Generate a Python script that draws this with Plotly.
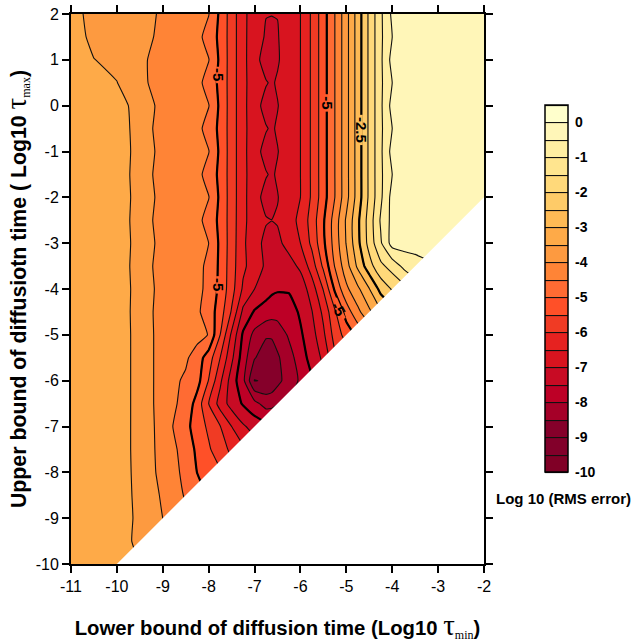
import plotly.graph_objects as go

x_vals = [-11,-10.5,-10,-9.5,-9,-8.5,-8.25,-8,-7.75,-7.5,-7.25,-7,-6.75,-6.625,-6.5,-6.25,-6,-5.75,-5.5,-5.25,-5,-4.75,-4.5,-4.25,-4,-3.75,-3.5,-3.25,-3,-2.5,-2]
y_vals = [2,1.5,1,0.5,0,-0.5,-1,-1.5,-2,-2.5,-3,-3.5,-4,-4.5,-5,-5.5,-6,-6.5,-7,-7.5,-8,-8.5,-9,-9.5,-10]

z_vals = [
[-3.3,-3.68,-3.78,-3.87,-4.05,-4.28,-4.38,-4.48,-5.1,-5.75,-6.35,-6.8,-6.99,-6.99,-6.99,-6.72,-6.5,-5.92,-5.21,-4.5,-3.67,-2.77,-1.9,-1.09,-0.4,-0.3,-0.27,-0.25,-0.24,-0.22,-0.2],
[-3.25,-3.63,-3.73,-3.85,-4.1,-4.28,-4.35,-4.7,-5.12,-5.75,-6.35,-6.82,-7.04,-7.1,-7.03,-6.75,-6.5,-5.92,-5.21,-4.5,-3.67,-2.77,-1.9,-1.09,-0.5,-0.3,-0.27,-0.26,-0.25,-0.23,-0.21],
[-3.2,-3.49,-3.62,-3.9,-4.2,-4.28,-4.38,-4.48,-5.1,-5.75,-6.35,-6.84,-7.2,-7.2,-7.05,-6.75,-6.5,-5.92,-5.21,-4.5,-3.67,-2.77,-1.9,-1.09,-0.33,-0.28,-0.26,-0.25,-0.24,-0.22,-0.2],
[-3.15,-3.3,-3.49,-3.85,-4.27,-4.28,-4.35,-4.7,-5.12,-5.75,-6.35,-6.8,-6.97,-7.05,-6.95,-6.72,-6.5,-5.92,-5.21,-4.5,-3.67,-2.77,-1.9,-1.09,-0.5,-0.3,-0.27,-0.26,-0.25,-0.23,-0.21],
[-3.15,-3.25,-3.38,-3.62,-4.2,-4.3,-4.38,-4.48,-5.1,-5.75,-6.35,-6.83,-7.15,-7.18,-7.02,-6.75,-6.5,-5.92,-5.21,-4.5,-3.67,-2.77,-1.9,-1.09,-0.33,-0.28,-0.26,-0.25,-0.24,-0.22,-0.2],
[-3.15,-3.25,-3.32,-3.64,-4.28,-4.28,-4.35,-4.7,-5.12,-5.75,-6.35,-6.8,-6.97,-7.05,-6.95,-6.72,-6.5,-5.92,-5.21,-4.5,-3.67,-2.77,-1.9,-1.09,-0.5,-0.3,-0.27,-0.26,-0.25,-0.23,-0.21],
[-3.15,-3.25,-3.32,-3.62,-4.2,-4.3,-4.38,-4.48,-5.1,-5.75,-6.35,-6.83,-7.15,-7.18,-7.02,-6.75,-6.5,-5.92,-5.21,-4.5,-3.67,-2.77,-1.9,-1.09,-0.33,-0.28,-0.26,-0.25,-0.24,-0.22,-0.2],
[-3.15,-3.25,-3.32,-3.64,-4.28,-4.28,-4.35,-4.7,-5.12,-5.75,-6.35,-6.8,-6.97,-7.05,-6.95,-6.72,-6.5,-5.92,-5.21,-4.5,-3.67,-2.77,-1.9,-1.09,-0.5,-0.3,-0.27,-0.26,-0.25,-0.23,-0.21],
[-3.15,-3.25,-3.32,-3.62,-4.2,-4.3,-4.38,-4.48,-5.1,-5.75,-6.35,-6.83,-7.15,-7.18,-7.02,-6.75,-6.5,-5.92,-5.21,-4.5,-3.67,-2.77,-1.9,-1.09,-0.33,-0.28,-0.26,-0.25,-0.24,-0.22,-0.2],
[-3.15,-3.25,-3.32,-3.64,-4.28,-4.28,-4.35,-4.7,-5.12,-5.75,-6.37,-6.78,-6.97,-6.995,-6.96,-6.68,-6.39,-5.78,-5.06,-4.28,-3.43,-2.6,-1.78,-0.94,-0.35,-0.3,-0.27,-0.26,-0.25,-0.23,-0.21],
[-3.15,-3.25,-3.32,-3.62,-4.2,-4.3,-4.38,-4.5,-5.1,-5.75,-6.4,-6.85,-7.1,-7.15,-7.12,-6.82,-6.5,-5.88,-5.1,-4.3,-3.47,-2.63,-1.82,-1.06,-0.3,-0.28,-0.26,-0.26,-0.25,-0.22,-0.2],
[-3.15,-3.25,-3.32,-3.64,-4.28,-4.28,-4.35,-4.62,-5.1,-5.78,-6.4,-6.75,-7.08,-7.2,-7.25,-7.2,-6.9,-6.26,-5.4,-4.47,-3.7,-2.9,-2.2,-1.62,-1.3,-0.89,-0.75,-0.59,-0.4,-0.3,-0.25],
[-3.15,-3.25,-3.32,-3.62,-4.22,-4.3,-4.38,-4.62,-5.13,-5.8,-6.58,-7.0,-7.3,-7.4,-7.45,-7.45,-7.3,-6.75,-5.97,-4.92,-4.11,-3.6,-3.02,-2.34,-1.95,-1.67,-1.2,-0.9,-0.6,-0.4,-0.3],
[-3.15,-3.25,-3.32,-3.63,-4.27,-4.3,-4.42,-4.72,-5.25,-6.05,-7.12,-7.55,-7.7,-7.78,-7.8,-7.72,-7.43,-7.02,-6.38,-5.57,-4.77,-4.13,-3.6,-3.06,-2.7,-2.3,-1.9,-1.5,-1.1,-0.8,-0.5],
[-3.15,-3.25,-3.32,-3.62,-4.25,-4.27,-4.33,-4.52,-5.5,-6.6,-7.58,-8.15,-8.45,-8.45,-8.3,-7.93,-7.57,-7.2,-6.6,-5.8,-5.3,-4.87,-4.4,-3.9,-3.4,-3.0,-2.6,-2.2,-1.8,-1.3,-0.9],
[-3.15,-3.25,-3.32,-3.62,-4.25,-4.42,-4.74,-5.25,-6.0,-6.89,-7.75,-8.47,-8.75,-8.72,-8.57,-8.2,-7.75,-7.3,-6.9,-6.1,-5.8,-5.3,-4.8,-4.3,-3.8,-3.4,-3.0,-2.6,-2.2,-1.7,-1.2],
[-3.15,-3.25,-3.32,-3.62,-4.25,-4.58,-4.82,-5.52,-6.4,-7.23,-7.87,-9.02,-8.95,-8.85,-8.65,-8.25,-7.93,-7.55,-7.1,-6.6,-6.1,-5.6,-5.2,-4.7,-4.2,-3.8,-3.4,-3.0,-2.6,-2.1,-1.6],
[-3.15,-3.25,-3.32,-3.62,-4.25,-4.65,-5.2,-6.0,-6.7,-7.2,-7.55,-7.85,-8.2,-8.18,-8.05,-7.95,-7.7,-7.4,-7.1,-6.7,-6.3,-5.9,-5.5,-5.1,-4.6,-4.2,-3.8,-3.4,-3.0,-2.5,-2.0],
[-3.15,-3.25,-3.32,-3.62,-4.22,-4.86,-5.22,-5.6,-5.98,-6.5,-6.93,-7.2,-7.34,-7.3,-7.2,-7.0,-6.8,-6.5,-6.2,-5.9,-5.6,-5.3,-5.0,-4.6,-4.2,-3.8,-3.4,-3.0,-2.6,-2.2,-1.8],
[-3.15,-3.25,-3.32,-3.62,-4.2,-4.68,-5.11,-5.43,-5.8,-6.1,-6.4,-6.7,-6.8,-6.8,-6.7,-6.5,-6.3,-6.1,-5.8,-5.5,-5.2,-4.9,-4.6,-4.2,-3.8,-3.5,-3.2,-2.9,-2.5,-2.1,-1.7],
[-3.15,-3.25,-3.32,-3.61,-4.17,-4.62,-5.01,-5.22,-5.44,-5.85,-6.1,-6.3,-6.4,-6.4,-6.3,-6.1,-5.9,-5.7,-5.4,-5.2,-4.9,-4.6,-4.3,-4.0,-3.6,-3.3,-3.0,-2.7,-2.4,-2.0,-1.6],
[-3.15,-3.25,-3.31,-3.6,-4.07,-4.55,-4.75,-5.05,-5.3,-5.6,-5.9,-6.1,-6.2,-6.2,-6.1,-5.9,-5.7,-5.5,-5.2,-5.0,-4.7,-4.4,-4.1,-3.8,-3.5,-3.2,-2.9,-2.6,-2.3,-1.9,-1.5],
[-3.13,-3.22,-3.29,-3.59,-4.0,-4.4,-4.6,-4.8,-5.0,-5.3,-5.5,-5.7,-5.8,-5.8,-5.7,-5.6,-5.4,-5.2,-5.0,-4.8,-4.5,-4.2,-3.9,-3.6,-3.3,-3.0,-2.7,-2.4,-2.1,-1.8,-1.4],
[-3.12,-3.2,-3.28,-3.62,-3.9,-4.2,-4.4,-4.6,-4.8,-5.0,-5.2,-5.4,-5.5,-5.5,-5.4,-5.3,-5.1,-4.9,-4.7,-4.5,-4.3,-4.0,-3.7,-3.4,-3.1,-2.8,-2.5,-2.3,-2.0,-1.7,-1.3],
[-3.1,-3.2,-3.3,-3.5,-3.8,-4.1,-4.2,-4.4,-4.6,-4.8,-5.0,-5.1,-5.2,-5.2,-5.1,-5.0,-4.9,-4.7,-4.5,-4.3,-4.1,-3.8,-3.5,-3.2,-2.9,-2.6,-2.4,-2.2,-1.9,-1.6,-1.2],
]

band_colors = ["#800026","#82002A","#85002A","#A50028","#BD0026","#C80B24","#D8141F","#E62220","#F03B24","#FF5028",
               "#FF6B33","#FF8436","#FD9A40","#FEAA48","#FEBA55","#FECB68","#FFD97A","#FFE58F","#FFEEA2","#FFF6B8","#FFFFCC"]
level_start, level_end, level_step = -10, 0.5, 0.5
bold_levels = [-7.5, -5, -2.5]
cbar_ticks = [0,-1,-2,-3,-4,-5,-6,-7,-8,-9,-10]
cbar_text = ["0","-1","-2","-3","-4","-5","-6","-7","-8","-9","-10"]
x_ticks = [-11,-10,-9,-8,-7,-6,-5,-4,-3,-2]
x_text = ["-11","-10","-9","-8","-7","-6","-5","-4","-3","-2"]
y_ticks = [2,1,0,-1,-2,-3,-4,-5,-6,-7,-8,-9,-10]
y_text = ["2","1","0","-1","-2","-3","-4","-5","-6","-7","-8","-9","-10"]
mask_x = [-10, -2, -2, -10]
mask_y = [-10, -2, -10, -10]
# contour labels: text, x, y, angle, gap start (x, y), gap end (x, y), gap colour
contour_labels = [
    ("-5", -7.8, 0.67, 90, (-7.8, 0.85), (-7.8, 0.49), "#FF5E2D"),
    ("-5", -5.43, 0.06, 90, (-5.43, 0.25), (-5.43, -0.13), "#FF5E2D"),
    ("-2.5", -4.68, -0.53, 90, (-4.68, -0.2), (-4.68, -0.86), "#FEC25E"),
    ("-5", -7.8, -3.91, 90, (-7.8, -3.72), (-7.8, -4.1), "#FF5E2D"),
    ("-5", -5.16, -4.44, 60, (-5.24, -4.2), (-5.05, -4.65), "#FF5E2D"),
]

SMOOTH = 0.4
n = len(band_colors)
scale = []
for i, c in enumerate(band_colors):
    scale += [[i / n, c], [(i + 1) / n, c]]

fig = go.Figure()
fig.add_trace(go.Contour(
    x=x_vals, y=y_vals, z=z_vals, zmin=level_start, zmax=level_end,
    colorscale=scale, autocontour=False,
    contours=dict(start=level_start, end=level_end, size=level_step, coloring="fill"),
    line=dict(color="#111111", width=1.1, smoothing=SMOOTH),
    colorbar=dict(
        x=(545-71)/413, xanchor="left", y=(564-472)/550, yanchor="bottom",
        lenmode="pixels", len=367, thicknessmode="pixels", thickness=23, xpad=0, ypad=0,
        outlinecolor="black", outlinewidth=1.5, tickmode="array", tickvals=cbar_ticks, ticktext=cbar_text,
        ticks="outside", ticklen=4, tickcolor="rgba(0,0,0,0)",
        tickfont=dict(family="Liberation Sans", size=14, color="black", weight="bold"),
    ),
    hoverinfo="skip",
))
for lev in bold_levels:
    fig.add_trace(go.Contour(
        x=x_vals, y=y_vals, z=z_vals, autocontour=False, showscale=False,
        contours=dict(start=lev, end=lev, size=1, coloring="none"),
        line=dict(color="black", width=2.2, smoothing=SMOOTH), hoverinfo="skip",
    ))
for _, _, _, _, g0, g1, col in contour_labels:
    fig.add_trace(go.Scatter(x=[g0[0], g1[0]], y=[g0[1], g1[1]], mode="lines",
                             line=dict(color=col, width=3.5), hoverinfo="skip", showlegend=False))
fig.add_trace(go.Scatter(x=mask_x, y=mask_y, mode="lines", fill="toself", fillcolor="white",
                         line=dict(color="white", width=0), hoverinfo="skip", showlegend=False))

axis_common = dict(showline=True, linewidth=2, linecolor="black", mirror="ticks", ticks="outside",
                   ticklen=7, tickwidth=1.5, tickcolor="black", showgrid=False, zeroline=False,
                   tickfont=dict(family="Liberation Sans", size=16, color="black"),
                   tickmode="array", layer="above traces", automargin=False, ticklabeloverflow="allow")
serif = "font-family:'Liberation Serif';font-weight:normal"
fig.update_layout(
    width=634, height=642, autosize=False, paper_bgcolor="white", plot_bgcolor="white",
    margin=dict(l=71, r=150, t=14, b=78), showlegend=False,
    font=dict(family="Liberation Sans", color="black"),
    xaxis=dict(axis_common, range=[-11, -2], tickvals=x_ticks, ticktext=x_text,
               title=dict(text=f"<b>Lower bound of diffusion time (Log10 </b><span style=\"{serif};font-size:29px\">τ</span><sub><span style=\"{serif};font-size:12px\">min</span></sub><b>)</b>",
                          font=dict(size=20.3, family="Liberation Sans"), standoff=27)),
    yaxis=dict(axis_common, range=[-10, 2], tickvals=y_ticks, ticktext=y_text,
               title=dict(text=f"<b>Upper bound of diffusiotn time ( Log10 </b><span style=\"{serif};font-size:29px\">τ</span><sub><span style=\"{serif};font-size:12px\">max</span></sub><b>)</b>",
                          font=dict(size=21.3, family="Liberation Sans"), standoff=21)),
    annotations=[dict(x=t[1], y=t[2], xref="x", yref="y", text=f"<b>{t[0]}</b>", textangle=t[3], showarrow=False,
                      borderpad=0, font=dict(family="Liberation Sans", size=15, color="black"))
                 for t in contour_labels] +
                [dict(x=(494-71)/413, y=(564-498)/550, xref="paper", yref="paper", xanchor="left", yanchor="middle", showarrow=False,
                      text="<b>Log 10 (RMS error)</b>", font=dict(family="Liberation Sans", size=15, color="black"))],
)
fig.write_html("out.html", post_script="document.body.style.margin='0';", config={"displayModeBar": False})
